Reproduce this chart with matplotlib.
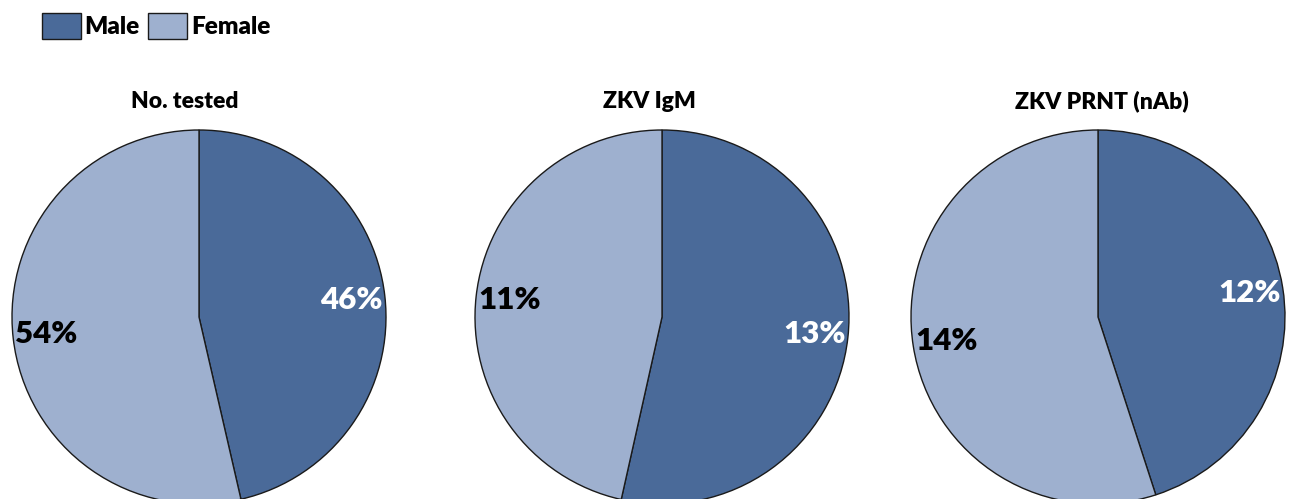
import matplotlib
matplotlib.use("Agg")
import matplotlib.pyplot as plt

plt.rcParams['font.family'] = ['Lato', 'DejaVu Sans']
plt.rcParams['font.weight'] = 'bold'

# data
groups = ['No. tested', 'ZKV IgM', 'ZKV PRNT (nAb)']
sexes = ['Male', 'Female']
# printed labels
male_vals = [46, 13, 12]
female_vals = [54, 11, 14]
# slice shares as drawn (male %, female = rest)
male_share = [46.4, 53.5, 45.0]
female_share = [53.6, 46.5, 55.0]

male_color = '#4a6a99'
female_color = '#9eb0cf'

W, H = 1290, 499
fig = plt.figure(figsize=(W / 100, H / 100), dpi=100)

# pie centres / radius in pixels
centres = [(199, 317), (662, 317), (1098, 317)]
radius = 187
title_x = [185, 649, 1102]

handles = None
for i, g in enumerate(groups):
    cx, cy = centres[i]
    ax = fig.add_axes([(cx - radius) / W, (H - cy - radius) / H,
                       2 * radius / W, 2 * radius / H])
    labs = iter(['%d%%' % male_vals[i], '%d%%' % female_vals[i]])
    wedges, texts, autotexts = ax.pie(
        [male_share[i], female_share[i]], colors=[male_color, female_color],
        startangle=90, counterclock=False, radius=1,
        autopct=lambda p: next(labs), pctdistance=0.82,
        wedgeprops=dict(edgecolor='#1a1a1a', linewidth=1.0))
    autotexts[0].set_color('white')
    autotexts[1].set_color('black')
    for t in autotexts:
        t.set_fontsize(22.5)
        t.set_fontweight('heavy')
    ax.set_xlim(-1, 1)
    ax.set_ylim(-1, 1)
    ax.set_aspect('equal')
    ax.axis('off')
    fig.text(title_x[i] / W, (H - 108) / H, g, ha='center', va='baseline',
             fontsize=16.5, fontweight='heavy')
    if handles is None:
        handles = wedges

fig.legend(handles, sexes, loc='upper left', bbox_to_anchor=(42 / W, 1 - 13 / H),
           ncol=2, frameon=False, handlelength=1.6,
           handleheight=1.25, handletextpad=0.15, columnspacing=0.35,
           borderaxespad=0, borderpad=0,
           prop=dict(weight='heavy', size=17.5))

fig.savefig('out.png', dpi=100)
